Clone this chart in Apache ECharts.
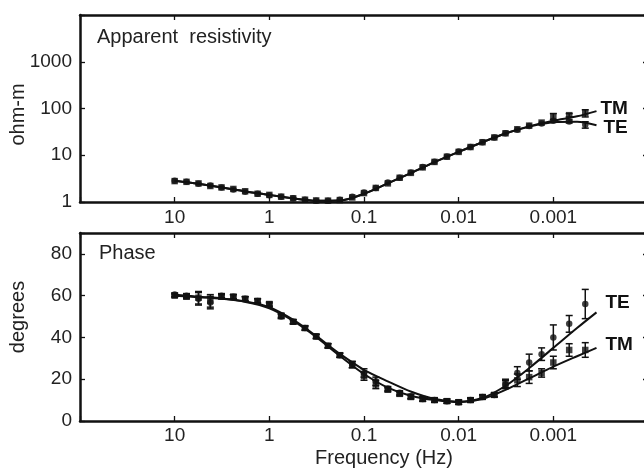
<!DOCTYPE html>
<html><head><meta charset="utf-8">
<script src="https://cdn.jsdelivr.net/npm/echarts@6/dist/echarts.min.js"></script>
<style>html,body{margin:0;padding:0;background:#fff}#c{width:644px;height:468px}</style>
</head><body><div id="c"></div>
<script>
// ---- data ----
const freq = [10, 7.5, 5.6, 4.2, 3.2, 2.4, 1.8, 1.33, 1.0, 0.75, 0.56, 0.42, 0.32, 0.24, 0.18, 0.133, 0.1, 0.075, 0.056, 0.042, 0.032, 0.024, 0.018, 0.0133, 0.01, 0.0075, 0.0056, 0.0042, 0.0032, 0.0024, 0.0018, 0.00133, 0.001, 0.00068, 0.00046];
const rhoTE = [2.85, 2.7, 2.45, 2.25, 2.05, 1.85, 1.65, 1.5, 1.4, 1.3, 1.2, 1.12, 1.07, 1.07, 1.12, 1.3, 1.6, 2.0, 2.6, 3.3, 4.3, 5.6, 7.3, 9.4, 12, 15, 19, 24, 29.5, 35, 42, 48, 55, 53, 45];
const rhoTM = [2.8, 2.7, 2.5, 2.2, 2.05, 1.9, 1.7, 1.5, 1.42, 1.3, 1.2, 1.12, 1.08, 1.07, 1.1, 1.25, 1.55, 2.0, 2.5, 3.3, 4.2, 5.5, 7.2, 9.3, 11.8, 15, 19, 24, 29.5, 36, 43, 50, 68, 72, 80];
const rhoErrTE = [0,0,0,0,0,0,0,0,0,0,0,0,0,0,0,0,0,0,0,0,0,0,0,0,0,0,0,0,0,0,0,0,0,4,7];
const rhoErrTM = [0,0,0,0,0,0,0,0,0,0,0,0,0,0,0,0,0,0,0,0,0,0,0,0,0,0,0,0,0,0,0,0,10,6,14];
const phaseTE = [60.5, 60, 58.5, 56.7, 60, 59.5, 58.5, 57.5, 55.5, 50, 47.5, 44.5, 40.5, 36, 31.5, 27, 23, 19, 15.5, 13.5, 11.8, 10.5, 10, 9.5, 9, 10, 11.5, 12.5, 17.5, 23, 28, 32, 40, 46.5, 56];
const phaseTM = [60, 59.5, 59, 57.5, 59.5, 59.5, 58.5, 57.5, 56, 50.5, 47.5, 44.5, 40.5, 36, 31.5, 27, 21.5, 17.5, 15, 13, 11.5, 10.5, 10, 9.5, 9, 10, 11.5, 12.5, 18, 19.5, 21, 23, 28, 34, 34];
const phaseErrTE = [0.8,1,3,3,1,1,1,1,1,1,1,1,1,1,1,1.5,2,2,1,1,1,1,1,1,1,1,1,1,2,3,4,3,6,4,7];
const phaseErrTM = [0.8,1,3,3,1,1,1,1,1,1,1,1,1,1,1,1.5,2,2,1,1,1,1,1,1,1,1,1,1,2,3,3,2,3,3,3.5];
const freqModel = [10, 5.62, 3.16, 1.78, 1, 0.562, 0.316, 0.178, 0.1, 0.0562, 0.0316, 0.0178, 0.01, 0.00562, 0.00316, 0.00178, 0.001, 0.000562, 0.00035];
const rhoModelTE = [2.85, 2.45, 2.05, 1.68, 1.42, 1.2, 1.07, 1.08, 1.5, 2.5, 4.2, 7.2, 11.8, 19, 29.5, 41, 51, 52, 44];
const rhoModelTM = [2.85, 2.45, 2.05, 1.68, 1.42, 1.2, 1.07, 1.08, 1.5, 2.5, 4.2, 7.2, 11.8, 19, 29.5, 42, 55, 68, 88];
const phaseModelTE = [60.5, 59.5, 58.7, 57.2, 54.5, 48.5, 40.5, 32, 24.5, 19, 14, 10.5, 9.2, 11, 17, 25.5, 35, 44.5, 52];
const phaseModelTM = [60, 59.3, 58.5, 57, 54, 48, 40, 31, 22.5, 16, 12, 10, 9, 10.5, 15, 20.5, 26, 31, 35];
const freqTickLabels = ['10', '1', '0.1', '0.01', '0.001'];
const rhoTickLabels = ['1', '10', '100', '1000'];
const phaseTickLabels = ['0', '20', '40', '60', '80'];

// ---- chart ----
const FONT = '"Liberation Sans", Arial, Helvetica, sans-serif';
const INK = '#111';
const FS = 19;
const FN = 20;
const fmt = v => String(Number(Number(v).toPrecision(4)));
const pick = list => v => { const s = fmt(v); return list.indexOf(s) >= 0 ? s : ''; };

function frameAxis(extra) {
  return Object.assign({
    axisLine: { show: true, onZero: false, lineStyle: { color: INK, width: 2.5 } },
    axisTick: { show: true, inside: true, length: 5, lineStyle: { color: INK, width: 1.3 } },
    splitLine: { show: false },
    axisLabel: { show: false }
  }, extra);
}
const labelStyle = (list, margin) => ({ show: true, color: '#222', fontFamily: FONT, fontSize: FS, margin: margin, formatter: pick(list) });

const xCommon = { type: 'log', logBase: 10, min: 0.0001, max: 100, inverse: true };
const rhoCommon = { type: 'log', logBase: 10, min: 1, max: 10000 };
const phCommon = { type: 'value', min: 0, max: 90, interval: 20 };

function errData(vals, errs) {
  return freq.map((f, i) => [f, vals[i] - errs[i], vals[i] + errs[i]]);
}
function errSeries(vals, errs, xi, yi) {
  return {
    type: 'custom', xAxisIndex: xi, yAxisIndex: yi, silent: true,
    encode: { x: 0, y: [1, 2] },
    data: errData(vals, errs),
    renderItem: function (params, api) {
      const x = api.value(0), lo = api.value(1), hi = api.value(2);
      if (hi - lo <= 0) return null;
      const a = api.coord([x, lo]), b = api.coord([x, hi]);
      const w = 3.5;
      const st = { stroke: INK, lineWidth: 1.5 };
      return { type: 'group', children: [
        { type: 'line', shape: { x1: a[0], y1: a[1], x2: b[0], y2: b[1] }, style: st },
        { type: 'line', shape: { x1: a[0] - w, y1: a[1], x2: a[0] + w, y2: a[1] }, style: st },
        { type: 'line', shape: { x1: b[0] - w, y1: b[1], x2: b[0] + w, y2: b[1] }, style: st }
      ]};
    }
  };
}
function scatterSeries(name, vals, xi, yi, sym) {
  return { name: name, type: 'scatter', xAxisIndex: xi, yAxisIndex: yi, symbol: sym, symbolSize: 6.5,
    itemStyle: { color: INK }, data: freq.map((f, i) => [f, vals[i]]), z: 3 };
}
function modelSeries(name, vals, xi, yi, offset) {
  return { name: name, type: 'line', xAxisIndex: xi, yAxisIndex: yi, smooth: 0.3, showSymbol: false,
    lineStyle: { color: INK, width: 2 }, data: freqModel.map((f, i) => [f, vals[i]]), z: 4,
    endLabel: { show: true, formatter: name, color: INK, fontFamily: FONT, fontSize: FS, fontWeight: 'bold',
      align: 'left', verticalAlign: 'middle', distance: 0, offset: offset } };
}

const option = {
  animation: false,
  backgroundColor: '#fff',
  title: [
    { text: 'Apparent  resistivity', left: 97, top: 27, padding: 0, textStyle: { fontFamily: FONT, fontSize: FN, fontWeight: 'normal', color: '#222' } },
    { text: 'Phase', left: 99, top: 243, padding: 0, textStyle: { fontFamily: FONT, fontSize: FN, fontWeight: 'normal', color: '#222' } }
  ],
  grid: [
    { left: 80, right: -4, top: 15, height: 187, outerBoundsMode: 'none', containLabel: false },
    { left: 80, right: -4, top: 233, height: 188, outerBoundsMode: 'none', containLabel: false }
  ],
  xAxis: [
    frameAxis(Object.assign({ gridIndex: 0, position: 'bottom', axisLabel: labelStyle(freqTickLabels, 6) }, xCommon)),
    frameAxis(Object.assign({ gridIndex: 0, position: 'top' }, xCommon)),
    frameAxis(Object.assign({ gridIndex: 1, position: 'bottom', axisLabel: labelStyle(freqTickLabels, 5),
      name: 'Frequency (Hz)', nameLocation: 'middle', nameGap: 27, nameMoveOverlap: false,
      nameTextStyle: { fontFamily: FONT, fontSize: FN, color: '#222', padding: [0, 0, 0, 40] } }, xCommon)),
    frameAxis(Object.assign({ gridIndex: 1, position: 'top' }, xCommon))
  ],
  yAxis: [
    frameAxis(Object.assign({ gridIndex: 0, position: 'left', axisLabel: labelStyle(rhoTickLabels, 8),
      name: 'ohm-m', nameLocation: 'middle', nameGap: 52, nameRotate: 90, nameMoveOverlap: false,
      nameTextStyle: { fontFamily: FONT, fontSize: FN, color: '#222', padding: [0, 12, 0, 0] } }, rhoCommon)),
    frameAxis(Object.assign({ gridIndex: 0, position: 'right' }, rhoCommon)),
    frameAxis(Object.assign({ gridIndex: 1, position: 'left', axisLabel: labelStyle(phaseTickLabels, 8),
      name: 'degrees', nameLocation: 'middle', nameGap: 52, nameRotate: 90, nameMoveOverlap: false,
      nameTextStyle: { fontFamily: FONT, fontSize: FN, color: '#222', padding: [0, 0, 0, 20] } }, phCommon)),
    frameAxis(Object.assign({ gridIndex: 1, position: 'right' }, phCommon))
  ],
  series: [
    errSeries(rhoTE, rhoErrTE, 0, 0),
    errSeries(rhoTM, rhoErrTM, 0, 0),
    scatterSeries('TE data', rhoTE, 0, 0, 'circle'),
    scatterSeries('TM data', rhoTM, 0, 0, 'rect'),
    modelSeries('TM', rhoModelTM, 0, 0, [4, -2]),
    modelSeries('TE', rhoModelTE, 0, 0, [7, 3]),
    errSeries(phaseTE, phaseErrTE, 2, 2),
    errSeries(phaseTM, phaseErrTM, 2, 2),
    scatterSeries('TE data', phaseTE, 2, 2, 'circle'),
    scatterSeries('TM data', phaseTM, 2, 2, 'rect'),
    modelSeries('TE', phaseModelTE, 2, 2, [9, -10]),
    modelSeries('TM', phaseModelTM, 2, 2, [9, -3])
  ]
};
const chart = echarts.init(document.getElementById('c'), null, { renderer: 'canvas' });
chart.setOption(option);
</script></body></html>
